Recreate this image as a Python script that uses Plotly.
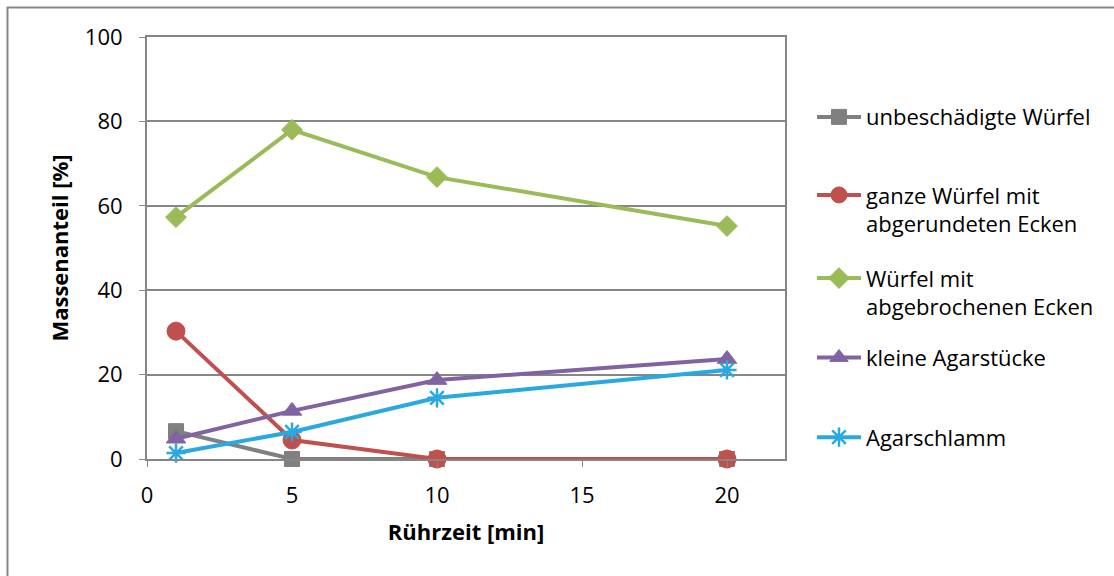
import plotly.graph_objects as go

# Rührzeit in Minuten
ruehrzeit = [1, 5, 10, 20]

# Massenanteile in Prozent je Fraktion
unbeschaedigt = [6.6, 0, 0, 0]
abgerundet = [30.3, 4.5, 0, 0]
abgebrochen = [57.3, 78.0, 66.8, 55.2]
agarstuecke = [4.8, 11.4, 18.7, 23.7]
agarschlamm = [1.4, 6.4, 14.5, 21.1]

series = [
    ("unbeschädigte Würfel", unbeschaedigt, "#808080", "square", 15, 1),
    ("ganze Würfel mit<br>abgerundeten Ecken", abgerundet, "#C0504D", "circle", 18, 1),
    ("Würfel mit<br>abgebrochenen Ecken", abgebrochen, "#9BBB59", "diamond", 16, 1),
    ("kleine Agarstücke", agarstuecke, "#8064A2", "triangle-up", 17, 1),
    ("Agarschlamm", agarschlamm, "#2AA8E0", "asterisk-open", 16, 2.5),
]

# top edge of each legend entry (paper units)
legend_y = [0.860, 0.675, 0.478, 0.290, 0.101]

FONT = "Open Sans"
W, H = 1114, 576
L, R, T, B = 147, 329, 37, 117
pw, ph = W - L - R, H - T - B
AXIS_GRAY = "#868686"

fig = go.Figure()
layout_legends = {}
for i, (name, vals, col, sym, size, mlw) in enumerate(series):
    lg = "legend" if i == 0 else f"legend{i + 1}"
    fig.add_trace(go.Scatter(
        x=ruehrzeit, y=vals, name=name, mode="lines+markers",
        line=dict(color=col, width=4),
        marker=dict(symbol=sym, size=size, color=col,
                    line=dict(color=col, width=mlw)),
        cliponaxis=False,
        legend=lg,
    ))
    layout_legends[lg] = dict(
        x=(812 - L) / pw, xanchor="left", y=legend_y[i], yanchor="top",
        font=dict(family=FONT, size=22, color="#000000"),
        bgcolor="rgba(0,0,0,0)", valign="top",
        itemwidth=44,
    )

fig.update_layout(
    width=W, height=H,
    margin=dict(l=L, r=R, t=T, b=B),
    paper_bgcolor="white", plot_bgcolor="white",
    showlegend=True,
    font=dict(family=FONT, size=20, color="#000000"),
    xaxis=dict(
        range=[0, 22], tickvals=[0, 5, 10, 15, 20],
        showgrid=False, zeroline=False,
        showline=True, linecolor=AXIS_GRAY, linewidth=2, mirror=True,
        ticks="outside", ticklen=6, tickcolor=AXIS_GRAY, tickwidth=1,
        ticklabelstandoff=10,
        tickfont=dict(family=FONT, size=22),
        title=dict(text="<b>Rührzeit [min]</b>", font=dict(family=FONT, size=22), standoff=16),
    ),
    yaxis=dict(
        range=[0, 100], tickvals=[0, 20, 40, 60, 80, 100],
        showgrid=True, gridcolor=AXIS_GRAY, gridwidth=1.5,
        zeroline=False,
        showline=True, linecolor=AXIS_GRAY, linewidth=2, mirror=True,
        ticks="outside", ticklen=6, tickcolor=AXIS_GRAY, tickwidth=1,
        ticklabelstandoff=12,
        tickfont=dict(family=FONT, size=22),
        title=dict(text="<b>Massenanteil [%]</b>", font=dict(family=FONT, size=22), standoff=10),
    ),
    **layout_legends,
)

# outer frame of the chart area (right and bottom edges lie outside the page)
fig.add_shape(
    type="rect", xref="paper", yref="paper",
    x0=(7.5 - L) / pw, x1=(W + 20 - L) / pw,
    y0=-(B + 20) / ph, y1=1 + (T - 7.5) / ph,
    line=dict(color=AXIS_GRAY, width=2), fillcolor="rgba(0,0,0,0)",
    layer="below",
)

fig.write_html("out.html")
